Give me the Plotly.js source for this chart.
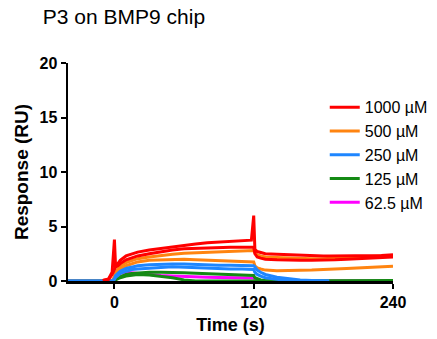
<!DOCTYPE html>
<html>
<head>
<meta charset="utf-8">
<script src="https://cdn.plot.ly/plotly-3.0.1.min.js"></script>
<style>html,body{margin:0;padding:0;background:#fff;}#chart{width:437px;height:339px;}</style>
</head>
<body>
<div id="chart"></div>
<script>
// Time points (s)
const time = [-40,-30,-20,-10,-5,-2,0,1,3,5, 10,15,20,30,40,50,60,70,80,90, 100,110,118,120,121,123,126,130,140,150, 160,170,180,185,190,200,210,220,230,240];

// Concentrations (legend labels)
const concLabels = ["1000 µM", "500 µM", "250 µM", "125 µM", "62.5 µM"];

// Responses (RU), two replicates per concentration (62.5 µM: one)
const red1 = [null,null,null,0.05,0.2,0.8,3.8,1.3,1.6,1.9, 2.3,2.5,2.65,2.85,3.0,3.15,3.3,3.4,3.5,3.55, 3.6,3.65,3.75,6.0,2.9,2.7,2.6,2.5,2.45,2.4, 2.35,2.3,2.3,2.3,2.3,2.3,2.3,2.35,2.35,2.4];
const red2 = [null,null,null,0.05,0.15,0.6,1.2,1.3,1.4,1.6, 1.95,2.15,2.3,2.5,2.7,2.85,2.95,3.0,3.05,3.05, 3.1,3.1,3.1,3.1,2.5,2.2,2.1,2.0,1.95,1.9, 1.9,1.9,1.9,1.95,1.95,2.0,2.05,2.1,2.15,2.2];
const orange1 = [0,0,0,0,0,0,0.4,0.8,1.1,1.35, 1.7,1.9,2.05,2.2,2.35,2.45,2.55,2.6,2.65,2.7, 2.75,2.8,2.8,2.8,2.6,2.4,2.3,2.2,2.15,2.1, 2.05,2.05,2.05,2.1,2.1,2.15,2.2,2.25,2.3,2.35];
const orange2 = [0,0,0,0,0,0,0.3,0.6,0.9,1.1, 1.4,1.6,1.75,1.9,1.95,2.0,2.0,1.95,1.9,1.85, 1.8,1.8,1.75,1.75,1.4,1.2,1.1,1.0,0.95,0.95, 1.0,1.0,1.05,1.1,1.1,1.15,1.2,1.25,1.3,1.35];
const blue1 = [0,0,0,0,0,0,0.2,0.5,0.7,0.9, 1.15,1.3,1.4,1.5,1.55,1.55,1.55,1.5,1.5,1.45, 1.45,1.45,1.4,1.4,1.3,1.0,0.8,0.6,0.35,0.2, 0.1,0.05,0.02,0,null,null,null,null,null,null];
const blue2 = [0,0,0,0,0,0,0.15,0.35,0.5,0.7, 0.9,1.05,1.1,1.2,1.25,1.3,1.25,1.2,1.2,1.15, 1.1,1.1,1.05,1.05,0.8,0.6,0.45,0.3,0.15,0.05, 0,0,0,0,null,null,null,null,null,null];
const green1 = [0,0,0,0,0,0,0.1,0.2,0.3,0.4, 0.6,0.7,0.75,0.8,0.8,0.8,0.75,0.7,0.65,0.6, 0.55,0.5,0.5,0.5,0.3,0.2,0.1,0.05,0,0, 0,0,0,0,0,0,0,0.05,0,0.05];
const green2 = [0,0,0,0,0,0,0.05,0.1,0.2,0.3, 0.45,0.55,0.6,0.55,0.45,0.3,0.1,0,0,0, 0,0,0,0,0,0,0,0,0,0, 0,0,0,0,0,0,0,0,0,0];
const magenta1 = [0,0,0,0,0,0,0.1,0.3,0.5,0.7, 0.8,0.75,0.65,0.55,0.5,0.45,0.4,0.38,0.35,0.33, 0.3,0.3,0.28,0.28,0.15,0.05,0,0,0,0, 0,0,0,0,0,0,0,0,0,0];

const FONT = "Arial, 'Liberation Sans', sans-serif";

function tr(y, name, color, rank, show) {
  return {
    x: time, y: y, type: 'scatter', mode: 'lines', name: name,
    legendgroup: name, showlegend: show, legendrank: rank,
    line: {color: color, width: 3}, connectgaps: false, hoverinfo: 'skip'
  };
}

const data = [
  tr(magenta1, concLabels[4], '#ff00ff', 5, true),
  tr(green1, concLabels[3], '#148a14', 4, true),
  tr(green2, concLabels[3], '#148a14', 4, false),
  tr(orange1, concLabels[1], '#ff8410', 2, true),
  tr(orange2, concLabels[1], '#ff8410', 2, false),
  tr(blue1, concLabels[2], '#1e86ff', 3, true),
  tr(blue2, concLabels[2], '#1e86ff', 3, false),
  tr(red1, concLabels[0], '#ff0000', 1, true),
  tr(red2, concLabels[0], '#ff0000', 1, false)
];

const layout = {
  width: 437, height: 339,
  margin: {l: 68, r: 44, t: 63, b: 58, autoexpand: false},
  paper_bgcolor: '#ffffff', plot_bgcolor: '#ffffff',
  font: {family: FONT, color: '#000'},
  title: {text: 'P3 on BMP9 chip', font: {family: FONT, size: 21, color: '#000'},
          xref: 'container', yref: 'container', x: 0.098, xanchor: 'left', y: 0.95, yanchor: 'middle'},
  xaxis: {
    range: [-40, 240], tickvals: [0, 120, 240], ticktext: ['0', '120', '240'],
    showgrid: false, zeroline: false, showline: true, linecolor: '#000', linewidth: 2.5,
    ticks: 'outside', ticklen: 5, tickwidth: 2, tickcolor: '#000',
    tickfont: {family: FONT, size: 16, weight: 'bold', color: '#000'},
    title: {text: 'Time (s)', font: {family: FONT, size: 18, weight: 'bold', color: '#000'}, standoff: 9}
  },
  yaxis: {
    range: [0, 20], tickvals: [0, 5, 10, 15, 20],
    showgrid: false, zeroline: false, showline: true, linecolor: '#000', linewidth: 2.5,
    ticks: 'outside', ticklen: 5, tickwidth: 2, tickcolor: '#000',
    tickfont: {family: FONT, size: 16, weight: 'bold', color: '#000'},
    title: {text: 'Response (RU)', font: {family: FONT, size: 19, weight: 'bold', color: '#000'}, standoff: 6}
  },
  showlegend: true,
  legend: {x: 0.79, xanchor: 'left', y: 0.875, yanchor: 'top', bgcolor: 'rgba(0,0,0,0)',
           font: {family: FONT, size: 16, color: '#000'}, tracegroupgap: 0, itemwidth: 30}
};

Plotly.newPlot('chart', data, layout, {displayModeBar: false, staticPlot: true});
</script>
</body>
</html>
